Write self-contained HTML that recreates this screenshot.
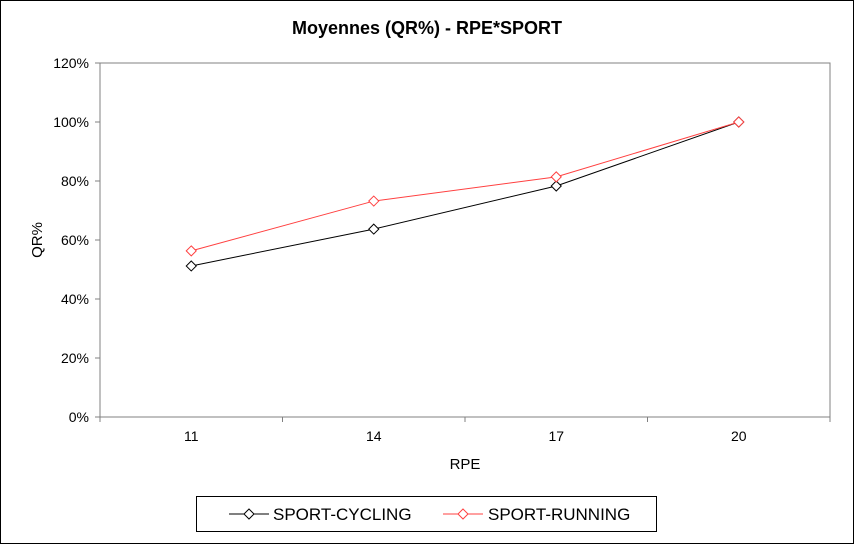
<!DOCTYPE html>
<html><head><meta charset="utf-8"><style>
body{margin:0;background:#fff;}
svg{display:block;font-family:"Liberation Sans",Arial,sans-serif;}
</style></head><body>
<svg width="854" height="544" viewBox="0 0 854 544">
<rect x="0.5" y="0.5" width="853" height="543" fill="#fff" stroke="#000"/>
<text x="427" y="34" text-anchor="middle" font-size="18" font-weight="bold">Moyennes (QR%) - RPE*SPORT</text>
<rect x="100" y="63" width="730" height="354" fill="#fff" stroke="#808080"/>
<g id="axes"></g>
<g id="series"></g>
<text x="42" y="240" text-anchor="middle" font-size="15" transform="rotate(-90 42 240)">QR%</text>
<text x="465" y="469" text-anchor="middle" font-size="15">RPE</text>
<g>
<rect x="196.5" y="496.5" width="460" height="35" fill="#fff" stroke="#000"/>
<g>
<line x1="229" y1="514" x2="269" y2="514" stroke="#000"/>
<path d="M249 509 L254 514 L249 519 L244 514 Z" fill="#fff" stroke="#000"/>
<text x="273" y="520" font-size="17">SPORT-CYCLING</text></g>
<g>
<line x1="443" y1="514" x2="483" y2="514" stroke="#ff4040"/>
<path d="M463 509 L468 514 L463 519 L458 514 Z" fill="#fff" stroke="#ff4040"/>
<text x="488" y="520" font-size="17">SPORT-RUNNING</text></g>
</g>
</svg>
<script>
const categories=["11","14","17","20"];
const yTicks=[0,20,40,60,80,100,120];
const cycling=[51.2,63.7,78.3,100];
const running=[56.3,73.2,81.4,100];
const NS="http://www.w3.org/2000/svg";
const X0=100,X1=830,Y0=417,Y1=63;
const bw=(X1-X0)/categories.length;
const xs=i=>X0+bw*(i+0.5);
const ys=v=>Y0-(v/120)*(Y0-Y1);
const axes=document.getElementById('axes'),ser=document.getElementById('series');
function mk(t,a,p){const e=document.createElementNS(NS,t);for(const k in a)e.setAttribute(k,a[k]);p.appendChild(e);return e;}
yTicks.forEach(v=>{
 const y=ys(v);
 const l=mk('line',{x1:95,x2:100,y1:y,y2:y,stroke:'#808080'},axes);
 
 
 const t=mk('text',{x:89,y:y+5,'text-anchor':'end','font-size':14},axes);
 
 
 t.textContent=v+'%';
});
for(let i=0;i<=categories.length;i++){
 const x=X0+bw*i;
 const l=mk('line',{x1:x,x2:x,y1:Y0,y2:Y0+5,stroke:'#808080'},axes);
 
 
}
categories.forEach((c,i)=>{
 const t=mk('text',{x:xs(i),y:441,'text-anchor':'middle','font-size':14},axes);
 
 
 t.textContent=c;
});
function draw(vals,color,name){
 const g=mk('g',{},ser);
 
 
 const p=mk('polyline',{points:vals.map((v,i)=>xs(i)+','+ys(v)).join(' '),fill:'none',stroke:color},g);
 
 
 vals.forEach((v,i)=>{
  const x=xs(i),y=ys(v);
  const m=mk('path',{d:`M${x} ${y-5} L${x+5} ${y} L${x} ${y+5} L${x-5} ${y} Z`,fill:'#fff',stroke:color},g);
  
  
 });
}
draw(cycling,'#000','series-cycling');
draw(running,'#ff4040','series-running');
</script>
</body></html>
